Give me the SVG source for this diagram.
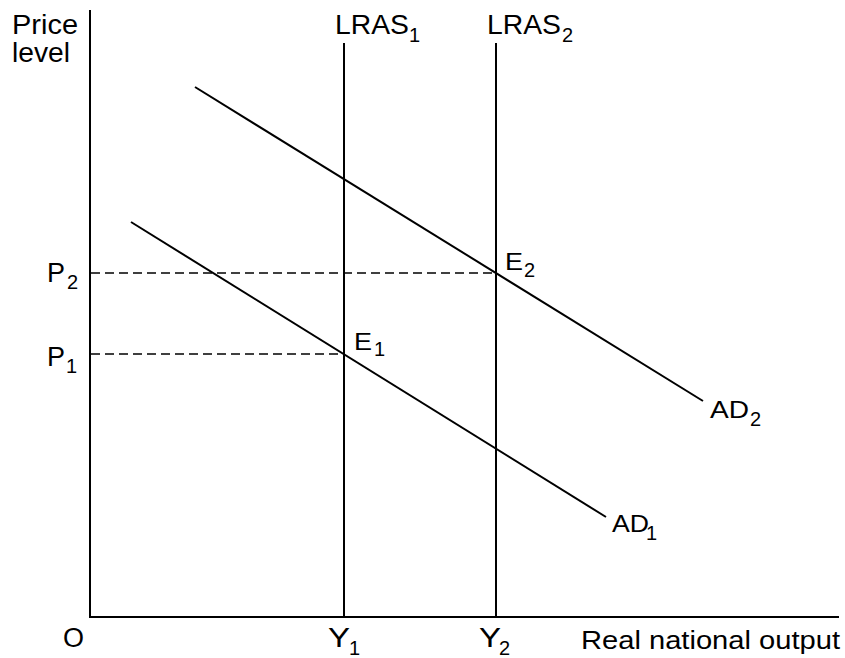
<svg xmlns="http://www.w3.org/2000/svg" width="845" height="658" viewBox="0 0 845 658">
<style>
  .ln { stroke: #000; stroke-width: 2; fill: none; }
  .dash { stroke: #000; stroke-width: 1.6; stroke-dasharray: 9 5; fill: none; }
  text { font-family: "Liberation Sans", Arial, sans-serif; fill: #000; }
  .lbl { font-size: 27px; }
  .ax { font-size: 26px; }
  .e { font-size: 23px; }
  .ad { font-size: 24px; }
  .sub { font-size: 20px; }
</style>
<rect width="845" height="658" fill="#fff"/>
<g id="axes">
  <line class="ln" x1="90" y1="10" x2="90" y2="617"/>
  <line class="ln" x1="89" y1="617" x2="839" y2="617"/>
  <text class="lbl" x="12" y="34" textLength="66" lengthAdjust="spacingAndGlyphs">Price</text>
  <text class="lbl" x="12" y="62" textLength="58" lengthAdjust="spacingAndGlyphs">level</text>
  <text class="lbl" x="63" y="647">O</text>
  <text class="ax" x="581" y="649" textLength="259" lengthAdjust="spacingAndGlyphs">Real national output</text>
</g>
<g id="connectors">
  <line class="dash" x1="91" y1="273" x2="496" y2="273"/>
  <line class="dash" x1="91" y1="354" x2="344" y2="354"/>
</g>
<g id="lras1">
  <line class="ln" x1="344" y1="43" x2="344" y2="617"/>
  <text class="lbl" x="335" y="34" textLength="74" lengthAdjust="spacingAndGlyphs">LRAS</text>
  <text class="sub" x="409" y="42">1</text>
</g>
<g id="lras2">
  <line class="ln" x1="496" y1="43" x2="496" y2="617"/>
  <text class="lbl" x="487" y="34" textLength="74" lengthAdjust="spacingAndGlyphs">LRAS</text>
  <text class="sub" x="562" y="42">2</text>
</g>
<g id="ad1">
  <line class="ln" x1="131" y1="222" x2="606" y2="517"/>
  <text class="ad" x="612" y="532" textLength="37" lengthAdjust="spacingAndGlyphs">AD</text>
  <text class="sub" x="646" y="540">1</text>
</g>
<g id="ad2">
  <line class="ln" x1="195" y1="87" x2="703" y2="401"/>
  <text class="ad" x="710" y="418" textLength="39" lengthAdjust="spacingAndGlyphs">AD</text>
  <text class="sub" x="750" y="426">2</text>
</g>
<g id="e1">
  <text class="e" x="354" y="350" textLength="18" lengthAdjust="spacingAndGlyphs">E</text>
  <text class="sub" x="374" y="356">1</text>
</g>
<g id="e2">
  <text class="e" x="505" y="270" textLength="18" lengthAdjust="spacingAndGlyphs">E</text>
  <text class="sub" x="524" y="277">2</text>
</g>
<g id="p-labels">
  <text class="lbl" x="47" y="282">P</text>
  <text class="sub" x="67" y="289">2</text>
  <text class="lbl" x="47" y="366">P</text>
  <text class="sub" x="66" y="373">1</text>
</g>
<g id="y-labels">
  <text class="lbl" x="328" y="647" textLength="22" lengthAdjust="spacingAndGlyphs">Y</text>
  <text class="sub" x="349" y="655">1</text>
  <text class="lbl" x="479" y="647" textLength="22" lengthAdjust="spacingAndGlyphs">Y</text>
  <text class="sub" x="499" y="655">2</text>
</g>
</svg>
